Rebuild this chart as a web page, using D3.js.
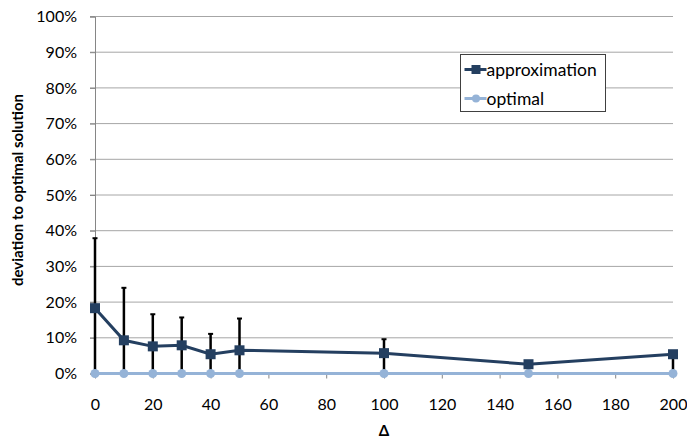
<!DOCTYPE html>
<html>
<head>
<meta charset="utf-8">
<script src="https://d3js.org/d3.v7.min.js"></script>
<style>
  body { margin: 0; background: #fff; }
  text { font-family: Lato, "Open Sans", sans-serif; fill: #000; }
</style>
</head>
<body>
<svg id="chart" width="687" height="439"></svg>
<script>
// data
var deltas = [0, 10, 20, 30, 40, 50, 100, 150, 200];
var approximation = [18.3, 9.3, 7.6, 7.9, 5.4, 6.5, 5.7, 2.6, 5.4];
var optimal = [0, 0, 0, 0, 0, 0, 0, 0, 0];
var errLow = [0, 0, 0, 0, 0, 0, 0, null, 0];
var errHigh = [37.9, 24.0, 16.6, 15.7, 11.1, 15.4, 9.6, null, 6.0];
var xTicks = [0, 20, 40, 60, 80, 100, 120, 140, 160, 180, 200];
var yTicks = [0, 10, 20, 30, 40, 50, 60, 70, 80, 90, 100];
var seriesNames = ["approximation", "optimal"];

var dark = "#243F60", light = "#95B3D7";

var svg = d3.select("#chart");
var margin = {top: 16.5, left: 95, right: 14, bottom: 65.5};
var W = 687, H = 439;

var x = d3.scaleLinear().domain([0, 200]).range([margin.left, W - margin.right]);
var y = d3.scaleLinear().domain([0, 100]).range([H - margin.bottom, margin.top]);

// gridlines
svg.append("g")
  .selectAll("line")
  .data(yTicks.filter(function(d) { return d > 0; }))
  .join("line")
  .attr("x1", margin.left - 5).attr("x2", x(200))
  .attr("y1", function(d) { return y(d); }).attr("y2", function(d) { return y(d); })
  .attr("stroke", "#A6A6A6").attr("stroke-width", 1);

// y axis
var yAxis = svg.append("g")
  .attr("transform", "translate(" + margin.left + ",0)")
  .call(d3.axisLeft(y).tickValues(yTicks).tickFormat(function(d) { return d + "%"; })
    .tickSize(5).tickPadding(13));
yAxis.select(".domain").attr("stroke", "#868686");
yAxis.selectAll(".tick line").attr("stroke", "#868686");
yAxis.selectAll(".tick text").style("font-size", "16px").attr("fill", "#000");

// x axis
var xAxis = svg.append("g")
  .attr("transform", "translate(0," + y(0) + ")")
  .call(d3.axisBottom(x).tickValues(xTicks).tickSize(5).tickPadding(20).tickSizeOuter(0));
xAxis.select(".domain").attr("stroke", "#868686");
xAxis.selectAll(".tick line").attr("stroke", "#868686");
xAxis.selectAll(".tick text").style("font-size", "16px").attr("fill", "#000");

// axis titles
svg.append("text")
  .attr("transform", "translate(23,190) rotate(-90)")
  .attr("text-anchor", "middle")
  .style("font-size", "15px").style("font-weight", "bold")
  .text("deviation to optimal solution");
svg.append("text")
  .attr("x", x(100)).attr("y", 436)
  .attr("text-anchor", "middle")
  .style("font-size", "15px").style("font-weight", "bold")
  .text("Δ");

var plot = svg.append("g");

// optimal series
plot.append("path")
  .datum(deltas.map(function(d, i) { return [d, optimal[i]]; }))
  .attr("fill", "none").attr("stroke", light).attr("stroke-width", 3)
  .attr("d", d3.line().x(function(d) { return x(d[0]); }).y(function(d) { return y(d[1]); }));

// error bars (min..max)
var eb = deltas.map(function(d, i) { return {x: d, lo: errLow[i], hi: errHigh[i]}; })
  .filter(function(d) { return d.hi != null; });
plot.append("g").selectAll("line")
  .data(eb).join("line")
  .attr("x1", function(d) { return x(d.x); }).attr("x2", function(d) { return x(d.x); })
  .attr("y1", function(d) { return y(d.lo); }).attr("y2", function(d) { return y(d.hi); })
  .attr("stroke", "#000").attr("stroke-width", 2.5);
plot.append("g").selectAll("line")
  .data(eb).join("line")
  .attr("x1", function(d) { return x(d.x) - 2.5; }).attr("x2", function(d) { return x(d.x) + 2.5; })
  .attr("y1", function(d) { return y(d.hi); }).attr("y2", function(d) { return y(d.hi); })
  .attr("stroke", "#000").attr("stroke-width", 2);

plot.append("g").selectAll("circle")
  .data(deltas).join("circle")
  .attr("cx", function(d) { return x(d); })
  .attr("cy", function(d, i) { return y(optimal[i]); })
  .attr("r", 4.5).attr("fill", light);

// approximation series
plot.append("path")
  .datum(deltas.map(function(d, i) { return [d, approximation[i]]; }))
  .attr("fill", "none").attr("stroke", dark).attr("stroke-width", 3)
  .attr("d", d3.line().x(function(d) { return x(d[0]); }).y(function(d) { return y(d[1]); }));

plot.append("g").selectAll("rect")
  .data(deltas).join("rect")
  .attr("x", function(d) { return x(d) - 5; })
  .attr("y", function(d, i) { return y(approximation[i]) - 5; })
  .attr("width", 10).attr("height", 10).attr("fill", dark);

// legend
var lg = svg.append("g").attr("transform", "translate(460.5,54.5)");
lg.append("rect").attr("width", 145).attr("height", 57)
  .attr("fill", "#fff").attr("stroke", "#404040").attr("stroke-width", 1);
var colors = [dark, light];
seriesNames.forEach(function(name, i) {
  var cy = 15 + i * 29;
  lg.append("line").attr("x1", 4).attr("x2", 26).attr("y1", cy).attr("y2", cy)
    .attr("stroke", colors[i]).attr("stroke-width", 3);
  if (i === 0) {
    lg.append("rect").attr("x", 11).attr("y", cy - 4.5).attr("width", 9).attr("height", 9).attr("fill", colors[i]);
  } else {
    lg.append("circle").attr("cx", 15.5).attr("cy", cy).attr("r", 4).attr("fill", colors[i]);
  }
  lg.append("text").attr("x", 26).attr("y", cy).attr("dy", "0.35em")
    .style("font-size", "17.5px").text(name);
});
</script>
</body>
</html>
